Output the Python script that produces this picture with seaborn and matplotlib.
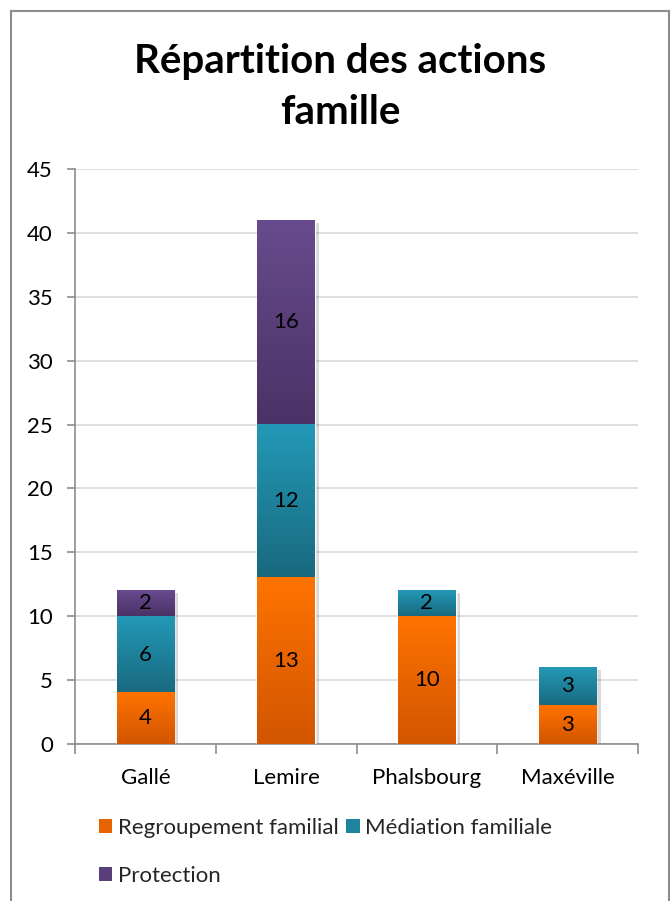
import numpy as np
import pandas as pd
import matplotlib
matplotlib.use("Agg")
import matplotlib.pyplot as plt
import seaborn as sns
from matplotlib.patches import Rectangle, Patch
from matplotlib.colors import LinearSegmentedColormap
import matplotlib.patheffects as pe

# ---- data ----
categories = ["Gallé", "Lemire", "Phalsbourg", "Maxéville"]
regroupement = [4, 13, 10, 3]
mediation = [6, 12, 2, 3]
protection = [2, 16, 0, 0]
series_names = ["Regroupement familial", "Médiation familiale", "Protection"]
y_ticks = [0, 5, 10, 15, 20, 25, 30, 35, 40, 45]
title = "Répartition des actions\nfamille"

# gradient colours (top, bottom)
grad_colors = {
    "Regroupement familial": ("#FF7300", "#D25500"),
    "Médiation familiale": ("#2399B7", "#19697F"),
    "Protection": ("#684B8E", "#4A3266"),
}
legend_colors = {
    "Regroupement familial": "#E86400",
    "Médiation familiale": "#1F84A0",
    "Protection": "#5A3F7A",
}

sns.set_theme(style="white")
plt.rcParams['font.family'] = ['Lato', 'DejaVu Sans']

fig = plt.figure(figsize=(6.72, 9.01), dpi=100)
W, H = 672, 901
ax = fig.add_axes([75 / W, (H - 744) / H, (638 - 75) / W, (744 - 169) / H])

df = pd.DataFrame({"cat": categories,
                   "reg": regroupement, "med": mediation, "prot": protection})
df["c1"] = df["reg"]
df["c2"] = df["reg"] + df["med"]
df["c3"] = df["c2"] + df["prot"]

layers = [("c3", "Protection"),
          ("c2", "Médiation familiale"),
          ("c1", "Regroupement familial")]

bar_w = 0.41
z = 2
for top_col, name in layers:
    n_before = len(ax.patches)
    sns.barplot(data=df, x="cat", y=top_col, color=legend_colors[name],
                saturation=1, width=bar_w, ax=ax, zorder=z, errorbar=None)
    patches = ax.patches[n_before:]
    if top_col == "c3":
        for p in patches:
            p.set_path_effects([pe.SimplePatchShadow(offset=(3, -2), alpha=0.15,
                                                     shadow_rgbFace="#000000"),
                                pe.Normal()])
    z += 1

# gradient overlays per segment
cols_map = {"Protection": ("c2", "c3", "prot"),
            "Médiation familiale": ("c1", "c2", "med"),
            "Regroupement familial": (None, "c1", "reg")}
grad = np.linspace(0, 1, 256).reshape(-1, 1)
for name, (bcol, tcol, vcol) in cols_map.items():
    top_c, bot_c = grad_colors[name]
    cmap = LinearSegmentedColormap.from_list(name, [bot_c, top_c])
    for i in range(len(categories)):
        v = df[vcol].iloc[i]
        if v <= 0:
            continue
        b = 0 if bcol is None else df[bcol].iloc[i]
        t = df[tcol].iloc[i]
        ax.imshow(grad, extent=(i - bar_w / 2, i + bar_w / 2, b, t), origin="lower",
                  aspect="auto", cmap=cmap, zorder=6, interpolation="bicubic")
        ax.text(i, (b + t) / 2, f"{v}", ha="center", va="center",
                fontsize=16, color="#000000", zorder=7)

ax.set_xlim(-0.5, 3.5)
ax.set_ylim(0, 45)
ax.set_yticks(y_ticks)
ax.set_yticklabels([str(t) for t in y_ticks], fontsize=16)
ax.set_xticks(range(len(categories)))
ax.set_xticklabels(categories, fontsize=16)
ax.set_xlabel("")
ax.set_ylabel("")
ax.yaxis.grid(True, color="#D9D9D9", linewidth=1.2, zorder=0)
ax.set_axisbelow(True)
for s in ["top", "right"]:
    ax.spines[s].set_visible(False)
for s in ["left", "bottom"]:
    ax.spines[s].set_color("#8C8C8C")
    ax.spines[s].set_linewidth(1.2)
ax.tick_params(axis="y", which="major", length=6, color="#8C8C8C", width=1.2,
               left=True, pad=10, labelcolor="#000000")
ax.tick_params(axis="x", which="major", length=0, pad=17, labelcolor="#000000")
ax.set_xticks([-0.5, 0.5, 1.5, 2.5, 3.5], minor=True)
ax.tick_params(axis="x", which="minor", length=7, color="#8C8C8C", width=1.2,
               bottom=True)

# title
fig.text(340 / W, 1 - 87 / H, title, ha="center", va="center",
         fontsize=29, fontweight="bold", color="#000000", linespacing=1.5)

# legend
handles = [Patch(facecolor=legend_colors[n], edgecolor="none") for n in
           ["Regroupement familial", "Protection", "Médiation familiale"]]
labels = ["Regroupement familial", "Protection", "Médiation familiale"]
fig.legend(handles, labels, ncol=2, loc="upper left",
           bbox_to_anchor=(99 / W, 1 - 818 / H), frameon=False,
           fontsize=16, handlelength=0.6, handleheight=0.6,
           handletextpad=0.25, columnspacing=0.35, labelspacing=1.25,
           borderaxespad=0, borderpad=0)

# outer frame
fig.patches.append(Rectangle((11 / W, -0.05), (669 - 11) / W, (1 - 11 / H) + 0.05,
                             transform=fig.transFigure, fill=False,
                             edgecolor="#8C8C8C", linewidth=1.5))

fig.savefig("out.png", dpi=100)
